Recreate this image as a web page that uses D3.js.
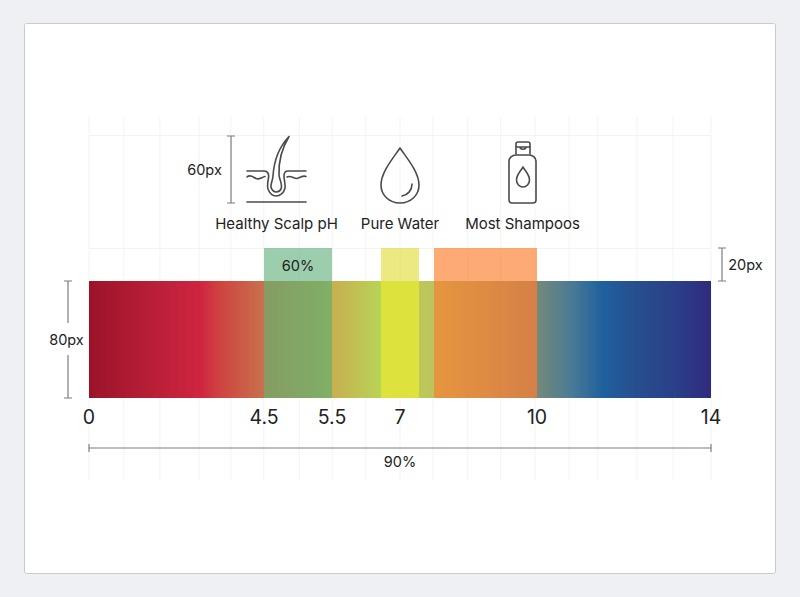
<!DOCTYPE html>
<html><head><meta charset="utf-8">
<script src="https://cdn.jsdelivr.net/npm/d3@7"></script>
<style>html,body{margin:0;padding:0;background:#eef0f3}svg{display:block}text{font-family:Inter,"Liberation Sans",sans-serif;fill:#222}</style>
</head><body><svg id="c" width="800" height="597"></svg>
<script>
// pH anchors and what they read as on the strip
const phAnchors = [0, 4.5, 5.5, 6.5, 7, 7.5, 8, 10, 14];
const phTicks = [0, 4.5, 5.5, 7, 10, 14];
const bandNames = ["Healthy Scalp pH", "Pure Water", "Most Shampoos"];
const bandStart = [4.5, 6.5, 8];
const bandEnd = [5.5, 7.5, 10];
const bandColors = ["#5aad76", "#e0d82f", "#fc7119"];
const bandLabels = ["60%", "", ""];
const gradientPh = [0, 1.6, 2.85, 3.3, 3.8, 4.5, 4.5, 5.5, 5.5, 6.5, 6.5, 7.5, 7.5, 8, 8, 10, 10, 10.8, 11.5, 12.2, 13.2, 14];
const gradientColors = ["#9b1329", "#b81f36", "#cf2440", "#cf4040", "#cc5545", "#c8714e", "#c68248", "#b7b44e", "#c8ae50", "#b8d455", "#dcf050", "#dcf050", "#bdc85a", "#bdc45a", "#c5cb78", "#9d968e", "#748a78", "#4a7a96", "#1f619d", "#26508f", "#2a3f88", "#302a7d"];
const gridPercent = [0, 5.6, 11.4, 17.7, 22.8, 28.1, 33.8, 39.1, 44.5, 50, 55.3, 60.9, 66.2, 71.7, 77.2, 81.8, 88.1, 93.9, 100];
const gridRows = [135, 248];

const svg = d3.select("#c");
const margin = {left: 89, right: 711, barTop: 281, barBottom: 398, bandTop: 248};
const x = d3.scaleLinear().domain(phAnchors).range([89, 264, 332, 381, 400, 419, 434, 537, 711]);
const gx = d3.scaleLinear().domain([0, 100]).range([margin.left, margin.right]);
const grey = "#7d7d7d", icon = "#4a4a4a";

svg.append("rect").attr("x", 24.5).attr("y", 23.5).attr("width", 751).attr("height", 550).attr("rx", 2)
  .attr("fill", "#fff").attr("stroke", "#c9cbce");

svg.append("g").selectAll("line").data(gridPercent).join("line")
  .attr("x1", d => gx(d)).attr("x2", d => gx(d)).attr("y1", 117).attr("y2", 480)
  .attr("stroke", "#f2f3f4");
svg.append("g").selectAll("line").data(gridRows).join("line")
  .attr("x1", margin.left).attr("x2", margin.right).attr("y1", d => d + .5).attr("y2", d => d + .5)
  .attr("stroke", "#f2f3f4");

const defs = svg.append("defs");
const grad = defs.append("linearGradient").attr("id", "ph").attr("gradientUnits", "userSpaceOnUse")
  .attr("x1", margin.left).attr("x2", margin.right).attr("y1", 0).attr("y2", 0);
const off = d3.scaleLinear().domain([margin.left, margin.right]).range([0, 1]);
grad.selectAll("stop").data(gradientPh).join("stop")
  .attr("offset", d => off(x(d))).attr("stop-color", (d, i) => gradientColors[i]);

svg.append("rect").attr("x", x(0)).attr("width", x(14) - x(0)).attr("y", margin.barTop)
  .attr("height", margin.barBottom - margin.barTop).attr("fill", "url(#ph)");

svg.append("g").selectAll("rect").data(bandNames).join("rect")
  .attr("x", (d, i) => x(bandStart[i])).attr("width", (d, i) => x(bandEnd[i]) - x(bandStart[i]))
  .attr("y", margin.bandTop).attr("height", margin.barBottom - margin.bandTop)
  .attr("fill", (d, i) => bandColors[i]).attr("fill-opacity", .6);

svg.append("g").selectAll("text").data(bandLabels).join("text")
  .attr("x", (d, i) => (x(bandStart[i]) + x(bandEnd[i])) / 2).attr("y", 271)
  .attr("text-anchor", "middle").attr("font-size", 14.5).text(d => d);

const axis = svg.append("g").attr("transform", `translate(-0.5,${margin.barBottom})`)
  .call(d3.axisBottom(x).tickValues(phTicks).tickSize(0).tickPadding(12.5).tickFormat(d3.format("")));
axis.select(".domain").remove();
axis.selectAll("text").attr("font-size", 19.5).attr("fill", "#222").style("font-family", "Inter");

// Names over the icons
const nameX = [276.5, 400, 522.5];
svg.append("g").selectAll("text").data(bandNames).join("text")
  .attr("x", (d, i) => nameX[i]).attr("y", 229).attr("text-anchor", "middle").attr("font-size", 15).text(d => d);

// Icons
const ic = svg.append("g").attr("fill", "none").attr("stroke", icon).attr("stroke-width", 1.6).attr("stroke-linecap", "round").attr("stroke-linejoin", "round");
// hair
ic.append("path").attr("d", "M247 202H306");
ic.append("path").attr("d", "M247 171H264C268 171 269 174 268.5 178C267.5 183 267 186 268 189C270 194 273 196 276 196C280 196 284 193 285 188C285.5 184 284 180 284 176C284 173 285 171 288 171H306");
ic.append("path").attr("d", "M247 177C250 174 253 177 256 178.5C259 180 262 177 265 176.5");
ic.append("path").attr("d", "M287 177C291 175 294 179 297 178.5C300 178 303 175 306 176.5");
ic.append("path").attr("d", "M289 136.500C280 146 274 160 273 176C272.500 181 270.500 184 271 187C271.500 190 274 192 276 192C279 192 281 190 281.500 187C282 183 279.500 180 279 175C278.500 162 282 148 289 136.500Z");
// drop
ic.append("path").attr("d", "M400 148C394 157 381 172 381 185C381 195 389 203 400 203C411 203 419 195 419 185C419 172 406 157 400 148Z");
ic.append("path").attr("d", "M412 184C412 190 408 195 402 196");
// bottle
ic.append("path").attr("d", "M516 154V144C516 143 517 142 518 142H528C529 142 530 143 530 144V154");
ic.append("path").attr("d", "M516 147H530M520 147C520 150 526 150 526 147");
ic.append("path").attr("d", "M516 155H529C533 155 536 158 536 161V200C536 202 535 203 533 203H512C510 203 509 202 509 200V161C509 158 512 155 516 155Z");
ic.append("path").attr("d", "M523 167C520 172 516.500 175 516.500 180C516.500 184 519.500 187 523 187C526.500 187 529.500 184 529.500 180C529.500 175 526 172 523 167Z");

// Dimension marks
const dim = svg.append("g").attr("stroke", grey).attr("stroke-width", 1.2).attr("fill", "none");
function vdim(px, y1, y2, half) {
  dim.append("path").attr("d", `M${px - half} ${y1}H${px + half}M${px - half} ${y2}H${px + half}`);
}
vdim(231, 136, 203, 4); dim.append("path").attr("d", "M231 136V203");
vdim(722, 248, 281, 4); dim.append("path").attr("d", "M722 248V281");
vdim(68, 281, 398, 4); dim.append("path").attr("d", "M68 281V323M68 355V398");
dim.append("path").attr("d", "M89 448H711M89 444V452M711 444V452");

const lab = [["60px", 204.5, 175], ["20px", 745.500, 270], ["80px", 66.500, 345], ["90%", 400, 467]];
svg.append("g").selectAll("text").data(lab).join("text")
  .attr("x", d => d[1]).attr("y", d => d[2]).attr("text-anchor", "middle").attr("font-size", 14.5).text(d => d[0]);
</script></body></html>
